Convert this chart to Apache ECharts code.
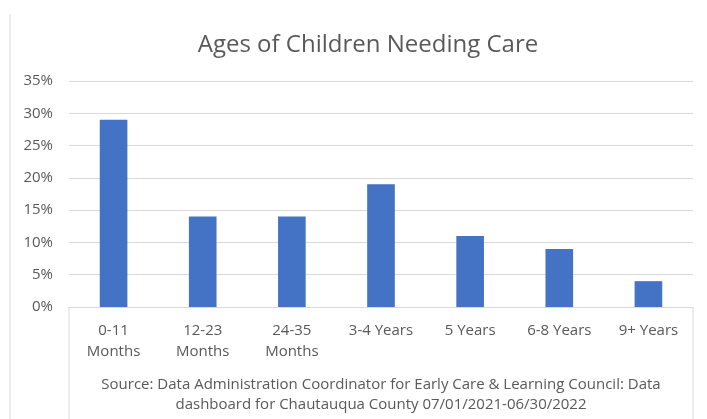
<!DOCTYPE html>
<html>
<head>
<meta charset="utf-8">
<script src="https://cdn.jsdelivr.net/npm/echarts@6/dist/echarts.min.js"></script>
<style>
  html, body { margin: 0; padding: 0; background: #fff; }
  #chart { width: 707px; height: 419px; }
</style>
</head>
<body>
<div id="chart"></div>
<script>
const categories = ["0-11\nMonths", "12-23\nMonths", "24-35\nMonths", "3-4 Years", "5 Years", "6-8 Years", "9+ Years"];
const shares = [29, 14, 14, 19, 11, 9, 4];
const yTicks = [0, 5, 10, 15, 20, 25, 30, 35];
const titleText = "Ages of Children Needing Care";
const sourceText = "Source: Data Administration Coordinator for Early Care & Learning Council: Data\ndashboard for Chautauqua County 07/01/2021-06/30/2022";

const font = "'Open Sans', 'Noto Sans', sans-serif";
const textColor = "#595959";
const lineColor = "#d9d9d9";

const gridLeft = 69;
const gridRight = 14;
const gridTop = 81;
const gridBottom = 112;
const plotCenter = (gridLeft + 707 - gridRight) / 2;

const chart = echarts.init(document.getElementById("chart"));

chart.setOption({
    backgroundColor: "#fff",
    animation: false,
    title: {
        text: titleText,
        left: 363,
        top: 28,
        textAlign: "center",
        textStyle: { fontFamily: font, fontSize: 24, fontWeight: "normal", color: textColor }
    },
    grid: { left: gridLeft, right: gridRight, top: gridTop, bottom: gridBottom },
    xAxis: {
        type: "category",
        data: categories,
        axisLine: { lineStyle: { color: lineColor } },
        axisTick: { show: false },
        axisLabel: {
            fontFamily: font, fontSize: 15, color: textColor,
            lineHeight: 21, margin: 13, interval: 0
        }
    },
    yAxis: {
        type: "value",
        min: yTicks[0],
        max: yTicks[yTicks.length - 1],
        interval: 5,
        axisLine: { show: false },
        axisTick: { show: false },
        splitLine: { lineStyle: { color: lineColor } },
        axisLabel: {
            fontFamily: font, fontSize: 15, color: textColor, margin: 16,
            formatter: v => v + "%"
        }
    },
    series: [{
        type: "bar",
        data: shares,
        barWidth: "31%",
        itemStyle: { color: "#4472c4" }
    }],
    graphic: [
        {
            type: "text",
            x: plotCenter,
            y: 375,
            style: {
                text: sourceText, fontFamily: font, fontSize: 15,
                fill: textColor, align: "center", lineHeight: 20
            }
        },
        {
            type: "line",
            shape: { x1: gridLeft, y1: 419 - gridBottom, x2: gridLeft, y2: 419 },
            style: { stroke: lineColor, lineWidth: 1 }
        },
        {
            type: "line",
            shape: { x1: 707 - gridRight, y1: 419 - gridBottom, x2: 707 - gridRight, y2: 419 },
            style: { stroke: lineColor, lineWidth: 1 }
        },
        {
            type: "line",
            shape: { x1: 10, y1: 14, x2: 10, y2: 419 },
            style: { stroke: lineColor, lineWidth: 1 }
        }
    ]
});
</script>
</body>
</html>
